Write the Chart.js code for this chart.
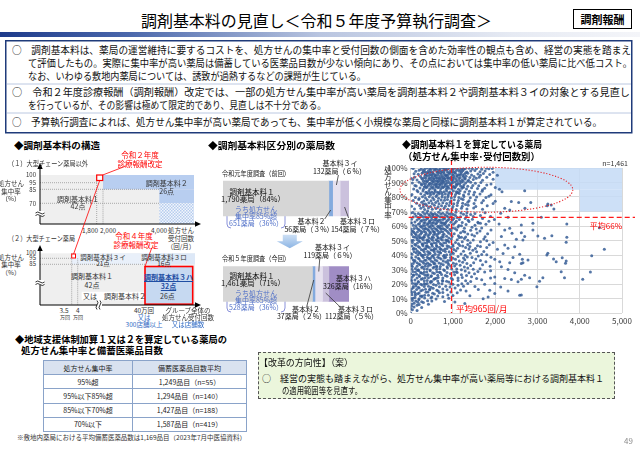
<!DOCTYPE html>
<html><head><meta charset="utf-8">
<script src="https://cdn.jsdelivr.net/npm/chart.js@4.4.1/dist/chart.umd.min.js"></script>
<style>
html,body{margin:0;padding:0;}
body{width:640px;height:452px;position:relative;overflow:hidden;background:#fff;font-family:"Noto Sans CJK JP","Noto Sans",sans-serif;color:#111;}
.t{position:absolute;white-space:nowrap;line-height:1;}
.c{transform:translateX(-50%);}
.r{transform:translateX(-100%);}
.hd{font-weight:bold;font-size:9.5px;color:#000;}
.d7{font-size:6.5px;color:#333;}
.bl{color:#2f6ac4;}
.red{color:#ff0000;}
canvas{position:absolute;}
svg{position:absolute;left:0;top:0;}
table{position:absolute;border-collapse:collapse;font-size:7px;color:#222;}
td,th{border:0.8px solid #8aa3c9;text-align:center;padding:0;height:13.2px;font-weight:normal;}
</style></head><body>

<svg width="640" height="452" viewBox="0 0 640 452">
<defs>
<pattern id="chk" width="3" height="3" patternUnits="userSpaceOnUse"><rect width="3" height="3" fill="#f2f6fc"/><rect width="1.5" height="1.5" fill="#b6ccee"/><rect x="1.5" y="1.5" width="1.5" height="1.5" fill="#b6ccee"/></pattern>
<linearGradient id="gbar" x1="0" x2="1" y1="0" y2="0"><stop offset="0" stop-color="#1d3a8a"/><stop offset="0.2" stop-color="#4a67ab"/><stop offset="0.5" stop-color="#b9c5e0"/><stop offset="0.8" stop-color="#e6eaf3"/><stop offset="1" stop-color="#f4f5f9"/></linearGradient>
</defs>
<rect x="0" y="32" width="640" height="5" fill="url(#gbar)"/>
<rect x="5.75" y="40.75" width="626" height="92" fill="none" stroke="#1f3b7a" stroke-width="1.5"/>
<line x1="7" y1="84" x2="631" y2="84" stroke="#a9bad9" stroke-width="0.8"/>
<line x1="7" y1="113" x2="631" y2="113" stroke="#a9bad9" stroke-width="0.8"/>

<!-- structure panel 1 -->
<rect x="40" y="175" width="154" height="49" fill="#efefef"/>
<rect x="103" y="175" width="91" height="14.3" fill="#b8cef0"/>
<rect x="159.3" y="189.3" width="34.7" height="14" fill="#b8cef0"/>
<rect x="159.3" y="203.3" width="34.7" height="20.7" fill="url(#chk)"/>
<g stroke="#8a8a8a" stroke-width="0.7" stroke-dasharray="1,1">
<line x1="40" y1="182.7" x2="97" y2="182.7"/><line x1="40" y1="189.3" x2="159.3" y2="189.3"/><line x1="40" y1="203.3" x2="159.3" y2="203.3"/>
<line x1="96.7" y1="175" x2="96.7" y2="224"/><line x1="103" y1="189.3" x2="103" y2="224"/>
</g>
<rect x="96.7" y="175" width="6" height="5.5" fill="#fff" stroke="#ff0000" stroke-width="1.2"/>
<g stroke="#000" stroke-width="1" fill="none">
<line x1="40" y1="224" x2="40" y2="167"/><line x1="40" y1="224" x2="197" y2="224"/>
</g>
<polygon points="40,163 37.3,169 42.7,169" fill="#000"/><polygon points="201,224 195,221.3 195,226.7" fill="#000"/>
<rect x="36" y="211" width="8" height="5" fill="#fff"/>
<path d="M35.5,213 q2.2,-2 4.5,0 t4.5,0 M35.5,215.5 q2.2,-2 4.5,0 t4.5,0" stroke="#000" stroke-width="0.8" fill="none"/>

<!-- structure panel 2 -->
<rect x="40" y="253.3" width="155" height="51.7" fill="#efefef"/>
<rect x="71.7" y="253.3" width="73.3" height="11" fill="#e9f0fa"/>
<rect x="145" y="253.3" width="50" height="11" fill="#dde8f7"/>
<rect x="81.7" y="291.8" width="63" height="8.4" fill="#fff"/>
<g stroke="#8a8a8a" stroke-width="0.7" stroke-dasharray="1,1">
<line x1="40" y1="258.3" x2="71.7" y2="258.3"/><line x1="40" y1="264.3" x2="145" y2="264.3"/>
<line x1="71.7" y1="253.3" x2="71.7" y2="305"/><line x1="77.7" y1="258.3" x2="77.7" y2="305"/>
</g>
<rect x="145" y="266.5" width="47.7" height="37.7" fill="#c6d9f1" stroke="#ff0000" stroke-width="1.6"/>
<rect x="71.7" y="254" width="3.8" height="4" fill="#fff" stroke="#ff0000" stroke-width="1"/>
<g stroke="#000" stroke-width="1" fill="none">
<line x1="40" y1="305" x2="40" y2="249"/><line x1="40" y1="305" x2="197" y2="305"/>
</g>
<polygon points="40,245 37.3,251 42.7,251" fill="#000"/><polygon points="201,305 195,302.3 195,307.7" fill="#000"/>
<rect x="36" y="280" width="8" height="5" fill="#fff"/>
<path d="M35.5,282 q2.2,-2 4.5,0 t4.5,0 M35.5,284.5 q2.2,-2 4.5,0 t4.5,0" stroke="#000" stroke-width="0.8" fill="none"/>
<rect x="97" y="300" width="5" height="9" fill="#fff"/>
<path d="M97,300.5 q2,2.2 0,4.5 t0,4.5 M100,300.5 q2,2.2 0,4.5 t0,4.5" stroke="#000" stroke-width="0.8" fill="none"/>

<g stroke="#ff0000" stroke-width="0.8">
<line x1="73.6" y1="254" x2="99.7" y2="180.5"/>
<line x1="102.7" y1="175" x2="126" y2="166"/>
<line x1="145" y1="266.5" x2="151.7" y2="248"/>
</g>

<!-- brackets in bar chart -->
<g stroke="#7d86d6" stroke-width="0.9" fill="none">
<path d="M231,205 Q227,205 227,209 L227,224 Q227,228 231,228"/>
<path d="M281,205 Q285,205 285,209 L285,224 Q285,228 281,228"/>
<path d="M231,289.5 Q227,289.5 227,293.5 L227,308 Q227,312 231,312"/>
<path d="M281,289.5 Q285,289.5 285,293.5 L285,308 Q285,312 281,312"/>
</g>
</svg>

<canvas id="bars" width="200" height="182" style="left:200px;top:150px;width:200px;height:182px"></canvas>
<canvas id="sc" width="255" height="175" style="left:380px;top:155px;width:255px;height:175px"></canvas>

<!-- header -->
<div class="t" style="left:141px;top:12px;font-size:16px;color:#000" data-w="351">調剤基本料の見直し＜令和５年度予算執行調査＞</div>
<div class="t" style="left:573px;top:8.5px;width:57px;height:18px;border:1.5px solid #000;font-size:11px;font-weight:bold;line-height:18px;text-align:center;color:#000">調剤報酬</div>

<div class="t" style="left:12px;top:45px;font-size:10px" data-w="619">○　調剤基本料は、薬局の運営維持に要するコストを、処方せんの集中率と受付回数の側面を含めた効率性の観点も含め、経営の実態を踏まえ</div>
<div class="t" style="left:28px;top:58px;font-size:10px" data-w="604">て評価したもの。実際に集中率が高い薬局は備蓄している医薬品目数が少ない傾向にあり、その点においては集中率の低い薬局に比べ低コスト。</div>
<div class="t" style="left:28px;top:71px;font-size:10px" data-w="338">なお、いわゆる敷地内薬局については、誘致が過熱するなどの課題が生じている。</div>
<div class="t" style="left:12px;top:87px;font-size:10px" data-w="618">○　令和２年度診療報酬（調剤報酬）改定では、一部の処方せん集中率が高い薬局を調剤基本料２や調剤基本料３イの対象とする見直し</div>
<div class="t" style="left:28px;top:100px;font-size:10px" data-w="298">を行っているが、その影響は極めて限定的であり、見直しは不十分である。</div>
<div class="t" style="left:12px;top:117px;font-size:10px" data-w="590">○　予算執行調査によれば、処方せん集中率が高い薬局であっても、集中率が低く小規模な薬局と同様に調剤基本料１が算定されている。</div>

<!-- section headers -->
<div class="t hd" style="left:14px;top:141px" data-w="86">◆調剤基本料の構造</div>
<div class="t hd" style="left:208px;top:141px" data-w="127">◆調剤基本料区分別の薬局数</div>
<div class="t hd" style="left:402px;top:140px" data-w="140">◆調剤基本料１を算定している薬局</div>
<div class="t hd" style="left:403px;top:151.5px" data-w="137">（処方せん集中率･受付回数別）</div>
<div class="t hd" style="left:15px;top:335px" data-w="212">◆地域支援体制加算１又は２を算定している薬局の</div>
<div class="t hd" style="left:21px;top:345.5px" data-w="142">処方せん集中率と備蓄医薬品目数</div>

<!-- structure panel texts -->
<div class="t" style="left:8px;top:159.5px;font-size:7px;color:#333" data-w="80">（１）大型チェーン薬局以外</div>
<div class="t c red" style="left:140px;top:151.3px;font-size:7.5px">令和２年度</div>
<div class="t c red" style="left:140px;top:159.5px;font-size:7.5px">診療報酬改定</div>
<div class="t r d7" style="left:36px;top:172px;font-size:6px">100</div>
<div class="t r d7" style="left:36px;top:179.7px;font-size:6px">95</div>
<div class="t r d7" style="left:36px;top:187px;font-size:6px">85</div>
<div class="t r d7" style="left:36px;top:201px;font-size:6px">70</div>
<div class="t c d7" style="left:11px;top:180px">処方せん</div>
<div class="t c d7" style="left:11px;top:187.5px">集中率</div>
<div class="t c d7" style="left:11px;top:195px">（%）</div>
<div class="t c" style="left:78px;top:195.8px;font-size:7px;color:#333">調剤基本料１</div>
<div class="t c" style="left:78px;top:203px;font-size:7px;color:#333">42点</div>
<div class="t c" style="left:166.7px;top:179.8px;font-size:7px;color:#333">調剤基本料２</div>
<div class="t c" style="left:166.7px;top:187.5px;font-size:7px;color:#333">26点</div>
<div class="t c d7" style="left:90px;top:227px">1,800</div>
<div class="t c d7" style="left:108px;top:227px">2,000</div>
<div class="t c d7" style="left:159px;top:227px">4,000</div>
<div class="t c d7" style="left:181px;top:227px">処方せん</div>
<div class="t c d7" style="left:181px;top:234.8px">受付回数</div>
<div class="t c d7" style="left:181px;top:242.5px">（回/月）</div>

<div class="t" style="left:8px;top:234.8px;font-size:7px;color:#333" data-w="67">（２）大型チェーン薬局</div>
<div class="t c red" style="left:134px;top:232.3px;font-size:7.5px">令和４年度</div>
<div class="t c red" style="left:136px;top:240.5px;font-size:7.5px">診療報酬改定</div>
<div class="t r d7" style="left:36px;top:250.3px;font-size:6px">100</div>
<div class="t r d7" style="left:36px;top:255.3px;font-size:6px">95</div>
<div class="t r d7" style="left:36px;top:261.3px;font-size:6px">85</div>
<div class="t c d7" style="left:11px;top:253.8px">処方せん</div>
<div class="t c d7" style="left:11px;top:261.2px">集中率</div>
<div class="t c d7" style="left:11px;top:268.5px">（%）</div>
<div class="t c" style="left:103px;top:253.5px;font-size:6.5px;color:#333">調剤基本料３イ</div>
<div class="t c" style="left:103px;top:260px;font-size:6.5px;color:#333">21点</div>
<div class="t c" style="left:164px;top:253.5px;font-size:6.5px;color:#333">調剤基本料３ロ</div>
<div class="t c" style="left:164px;top:260px;font-size:6.5px;color:#333">16点</div>
<div class="t c" style="left:92px;top:273.2px;font-size:7px;color:#333">調剤基本料１</div>
<div class="t c" style="left:92px;top:281.5px;font-size:7px;color:#333">42点</div>
<div class="t" style="left:83px;top:292.5px;font-size:7px;color:#333">又は　調剤基本料２　　26点</div>
<div class="t c" style="left:168.5px;top:274.2px;font-size:7px;color:#1f4ea3;font-weight:bold;text-decoration:underline">調剤基本料３ハ</div>
<div class="t c" style="left:168.5px;top:282.5px;font-size:7px;color:#1f4ea3;font-weight:bold;text-decoration:underline">32点</div>
<div class="t c d7" style="left:64px;top:307px">3.5</div>
<div class="t c d7" style="left:77.7px;top:307px">4</div>
<div class="t c d7" style="left:65px;top:314px;font-size:5px">万回</div>
<div class="t c d7" style="left:78px;top:314px;font-size:5px">万回</div>
<div class="t c d7" style="left:144px;top:307px">40万回</div>
<div class="t c d7 bl" style="left:144px;top:313.7px">又は</div>
<div class="t c d7 bl" style="left:144px;top:321px">300店舗以上</div>
<div class="t c d7" style="left:188px;top:307px">グループ全体の</div>
<div class="t c d7" style="left:188px;top:314px">処方せん受付回数</div>
<div class="t c d7 bl" style="left:188px;top:321px">又は店舗数</div>

<!-- bar chart texts -->
<div class="t" style="left:222px;top:169.8px;font-size:7px;color:#222" data-w="68">令和元年度調査（前回）</div>
<div class="t" style="left:222px;top:254.8px;font-size:7px;color:#222" data-w="68">令和５年度調査（今回）</div>
<div class="t c" style="left:340px;top:159.8px;font-size:7px">基本料３イ</div>
<div class="t c" style="left:339.5px;top:167.5px;font-size:7px">132薬局（６%）</div>
<div class="t c" style="left:252px;top:187.5px;font-size:7.5px">調剤基本料１</div>
<div class="t c" style="left:253px;top:194.8px;font-size:7.5px">1,790薬局（84%）</div>
<div class="t c bl" style="left:256px;top:205.5px;font-size:7px;color:#4f6fc8">うち処方せん</div>
<div class="t c bl" style="left:256px;top:212.5px;font-size:7px;color:#4f6fc8">集中率85%超</div>
<div class="t c bl" style="left:256px;top:220.2px;font-size:7px;color:#4f6fc8">651薬局（36%）</div>
<div class="t c" style="left:311.5px;top:218.2px;font-size:7px">基本料２</div>
<div class="t c" style="left:309px;top:225.8px;font-size:7px">56薬局（３%）</div>
<div class="t c" style="left:357.5px;top:218.2px;font-size:7px">基本料３ロ</div>
<div class="t c" style="left:357.5px;top:225.8px;font-size:7px">154薬局（７%）</div>
<div class="t c" style="left:332.5px;top:243.8px;font-size:7px">基本料３イ</div>
<div class="t c" style="left:330px;top:251.5px;font-size:7px">119薬局（６%）</div>
<div class="t c" style="left:252px;top:272.2px;font-size:7.5px">調剤基本料１</div>
<div class="t c" style="left:253px;top:279.2px;font-size:7.5px">1,461薬局（71%）</div>
<div class="t c bl" style="left:256px;top:289.8px;font-size:7px;color:#4f6fc8">うち処方せん</div>
<div class="t c bl" style="left:256px;top:296.5px;font-size:7px;color:#4f6fc8">集中率85%超</div>
<div class="t c bl" style="left:256px;top:304.2px;font-size:7px;color:#4f6fc8">528薬局（36%）</div>
<div class="t c" style="left:353.5px;top:274.8px;font-size:7px">基本料３ハ</div>
<div class="t c" style="left:350px;top:282.5px;font-size:7px">326薬局（16%）</div>
<div class="t c" style="left:306px;top:305.5px;font-size:7px">基本料２</div>
<div class="t c" style="left:301.5px;top:313.2px;font-size:7px">37薬局（２%）</div>
<div class="t c" style="left:355.5px;top:305.5px;font-size:7px">基本料３ロ</div>
<div class="t c" style="left:351.5px;top:313.2px;font-size:7px">112薬局（５%）</div>

<!-- scatter texts -->
<div class="t" style="left:384px;top:166px;font-size:7.5px;writing-mode:vertical-rl;color:#222">処方せん集中率</div>
<div class="t r" style="left:628px;top:159.5px;font-size:7px;color:#333">n=1,461</div>
<div class="t r red" style="left:622px;top:222px;font-size:8px">平均66%</div>
<div class="t red" style="left:456px;top:304.3px;font-size:8.5px">平均965回/月</div>

<!-- table -->
<table style="left:43px;top:360px;width:204px">
<tr style="background:#d9e2f0"><th style="width:88px">処方せん集中率</th><th>備蓄医薬品目数平均</th></tr>
<tr><td id="r0a"></td><td id="r0b"></td></tr>
<tr><td id="r1a"></td><td id="r1b"></td></tr>
<tr><td id="r2a"></td><td id="r2b"></td></tr>
<tr><td id="r3a"></td><td id="r3b"></td></tr>
</table>
<div class="t" style="left:17px;top:435px;font-size:6.3px;color:#333" data-w="229">※敷地内薬局における平均備蓄医薬品数は1,169品目（2023年7月中医協資料）</div>

<!-- reform box -->
<div class="t" style="left:258px;top:352px;width:355px;height:45px;background:#ebf6dc;border:1px dashed #555"></div>
<div class="t" style="left:259px;top:357.5px;font-size:9.5px;color:#111" data-w="94">【改革の方向性】（案）</div>
<div class="t" style="left:262px;top:374px;font-size:9.5px;color:#111" data-w="342">○　経営の実態も踏まえながら、処方せん集中率が高い薬局等における調剤基本料１</div>
<div class="t" style="left:281.5px;top:386px;font-size:9.5px;color:#111" data-w="80">の適用範囲等を見直す。</div>
<div class="t" style="left:624px;top:437px;font-size:8px;color:#8c8c8c">49</div>

<script>
// ---- table data ----
const tableRates = ['95%超','95%以下85%超','85%以下70%超','70%以下'];
const tableItems = [1249,1294,1427,1587];
const tableN = [55,140,188,419];

// ---- bar chart data (調剤基本料区分別の薬局数, %) ----
const barCats = ['令和元年度調査（前回）','令和５年度調査（今回）'];
const kihon1 = [84,71];
const kihon2 = [3,2];
const kihon3i = [6,6];
const kihon3ro = [7,5];
const kihon3ha = [0,16];

// ---- scatter data: [受付回数/月, 処方せん集中率%] ----
const scatterPoints = [
[0,100],[60,99.6],[250,99.2],[380,100],[450,99.4],[520,99.8],[610,99.1],[700,99.7],[760,100],[830,99.3],[900,99.8],[980,99.5],[1050,100],[1120,99.2],[1210,99.7],[1290,99.4],[1380,99.9],[1460,99.3],[1560,99.6],[1680,99.1],[1790,99.8],[1850,99.4],[1930,99.7],
[120,97.8],[300,98.3],[340,97.2],[420,98.1],[490,97.5],[560,98.4],[640,97.1],[690,98.2],[740,97.6],[810,98.5],[870,97.3],[940,98],[1010,97.4],[1080,98.3],[1150,97.7],[1230,98.1],[1330,97.2],[1420,97.9],[1520,98.2],[1640,97.5],[1760,97.9],
[180,95.7],[270,96.3],[360,95.2],[410,96.4],[470,95.5],[540,96.1],[600,95.3],[660,96.5],[720,95.8],[790,96.2],[850,95.1],[920,96],[990,95.6],[1060,96.3],[1130,95.4],[1190,96.1],[1270,95.7],[1350,96.4],[1440,95.2],[1590,95.9],[1720,96.2],[1870,95.5],
[90,93.6],[230,94.2],[320,93.4],[390,94.4],[440,93.1],[510,93.9],[580,94.3],[630,93.2],[700,94.1],[770,93.5],[830,94.4],[890,93.3],[960,94],[1030,93.6],[1100,94.2],[1170,93.4],[1250,93.9],[1310,94.3],[1400,93.5],[1500,94.1],[1620,93.7],
[150,91.8],[280,92.3],[350,91.2],[430,92.1],[490,91.5],[550,92.4],[620,91.3],[680,92.2],[750,91.6],[800,92.5],[880,91.4],[950,92],[1000,91.7],[1070,92.3],[1160,91.2],[1220,91.9],[1290,92.4],[1370,91.5],[1480,92.1],[1700,91.6],[1950,92.2],
[40,89.7],[200,90.2],[310,89.3],[380,90.4],[460,89.5],[530,90.1],[590,89.2],[650,90.3],[720,89.6],[780,90.2],[860,89.4],[910,90],[990,89.7],[1050,90.4],[1120,89.3],[1200,90.1],[1300,89.6],[1420,90.2],[1530,89.5],[1660,90],
[130,87.6],[260,88.3],[340,87.4],[420,88.1],[480,87.2],[560,88.4],[610,87.7],[690,88.2],[740,87.3],[820,88],[880,87.5],[940,88.3],[1020,87.2],[1090,88.1],[1180,87.6],[1260,88.4],[1350,87.4],[1470,88],[1610,87.7],[1800,88.2],
[70,85.6],[220,86.2],[300,85.3],[370,86.4],[450,85.5],[510,86.1],[570,85.2],[640,86.3],[710,85.7],[760,86.4],[840,85.4],[900,86],[970,85.6],[1040,86.2],[1130,85.3],[1210,86.1],[1320,85.5],[1440,86.3],[1580,85.8],[1750,86],[2100,85.4],
[330,99],[470,98.9],[580,99.2],[660,98.7],[790,99],[860,98.8],[1000,98.9],[1180,98.7],[1250,99],
[290,97],[380,96.9],[450,97],[520,96.8],[620,97.2],[710,96.9],[780,97.1],[900,96.8],[960,97.1],[1040,96.9],[1200,97],[1300,96.8],
[340,95],[440,94.8],[500,95.1],[570,94.9],[650,95],[750,94.7],[820,95],[880,94.9],[1010,95],[1090,94.8],[1160,95.1],[1230,94.9],
[260,93],[360,92.9],[470,93],[540,92.8],[600,93.1],[670,92.9],[730,93],[800,92.8],[860,93.1],[920,92.9],[1000,93],[1140,92.8],[1280,93],
[300,90.9],[400,91],[520,90.8],[570,91.1],[640,90.9],[700,91],[760,90.8],[830,91.1],[980,90.9],[1100,91],[1240,90.8],
[250,89],[350,88.9],[440,89.1],[500,88.8],[620,89],[680,88.8],[750,89.1],[820,88.9],[950,89],[1080,88.8],[1160,89.1],
[320,86.9],[390,87.1],[530,86.8],[600,87],[670,86.9],[790,87.1],[860,86.8],[1000,87],[1060,86.9],[1230,87.1],
[170,83.6],[290,84.2],[360,83.3],[430,84.1],[500,83.5],[580,84.3],[630,83.2],[700,84],[790,83.7],[850,84.2],[930,83.4],[1010,84.1],[1080,83.6],[1170,84.3],[1280,83.5],[1390,84],[1510,83.3],[1690,83.9],[2160,83.6],[2697,84.3],
[30,81.7],[240,82.2],[330,81.3],[400,82.4],[470,81.5],[540,82.1],[620,81.2],[680,82.3],[750,81.6],[820,82],[890,81.4],[970,82.2],[1060,81.7],[1150,82.4],[1250,81.3],[1370,82],[1490,81.6],[1640,82.1],[1900,81.5],
[380,83],[460,82.8],[560,83.1],[660,82.9],[740,83],[900,82.8],[1120,83.1],
[110,79.6],[280,80.2],[350,79.3],[440,80.1],[520,79.5],[600,80.3],[660,79.2],[740,80],[810,79.7],[880,80.2],[960,79.4],[1040,80.1],[1140,79.6],[1260,80.3],[1410,79.5],[1560,80],[1780,79.7],
[60,77.6],[190,78.2],[310,77.3],[390,78.1],[480,77.5],[550,78.3],[640,77.2],[720,78],[800,77.7],[870,78.2],[950,77.4],[1030,78.1],[1130,77.6],[1240,78.3],[1380,77.5],[1530,78],[1720,77.6],[2380,76.9],[2555,76.2],
[140,75.7],[260,76.3],[350,75.2],[430,76.1],[510,75.5],[590,76.2],[670,75.3],[760,76],[850,75.6],[930,76.2],[1020,75.4],[1110,76.1],[1230,75.7],[1350,76.3],[1500,75.5],[1680,76],[1950,75.6],[2840,76.2],[3245,75.2],
[20,73.6],[210,74.2],[300,73.3],[380,74.1],[470,73.5],[560,74.3],[650,73.2],[730,74],[820,73.7],[910,74.2],[1000,73.4],[1100,74.1],[1220,73.6],[1360,74.3],[1540,73.5],[1810,74],[3231,73.9],[3325,74.5],
[90,71.7],[240,72.2],[330,71.3],[420,72.4],[510,71.5],[600,72.1],[700,71.2],[790,72.3],[880,71.6],[980,72],[1080,71.4],[1200,72.2],[1330,71.7],[1490,72.4],[1700,71.5],[2225,72.3],[2343,71.1],[2703,72.2],[3388,71.8],
[50,69.3],[180,68.7],[290,69.5],[380,68.9],[480,69.2],[570,68.6],[660,69.4],[760,68.8],[860,69.3],[960,68.7],[1070,69.5],[1190,68.9],[1330,69.2],[1520,68.6],[1760,69.1],[2130,68.8],
[130,66.7],[250,67.3],[350,66.4],[450,67.2],[540,66.5],[640,67.1],[740,66.3],[850,67],[950,66.6],[1060,67.3],[1180,66.4],[1320,67.1],[1480,66.6],[1650,67.2],[1890,66.5],[2303,66],[3090,66],
[20,64.6],[200,65.2],[310,64.3],[400,65.1],[500,64.5],[600,65.3],[700,64.2],[800,65],[910,64.7],[1020,65.2],[1150,64.4],[1290,65.1],[1460,64.6],[1700,65.2],[1980,64.5],
[100,62.7],[240,63.3],[340,62.4],[440,63.2],[540,62.5],[640,63.1],[740,62.3],[840,63],[950,62.6],[1080,63.3],[1220,62.4],[1380,63.1],[1590,62.6],[1850,63.2],
[60,60.6],[180,61.2],[290,60.3],[390,61.1],[490,60.5],[590,61.3],[690,60.2],[800,61],[900,60.7],[1010,61.2],[1140,60.4],[1310,61.1],[1520,60.6],[1780,61.2],[2091,61.4],[2618,60.7],[2892,61.9],[3694,61.4],
[140,58.7],[250,59.3],[350,58.4],[460,59.2],[560,58.5],[660,59.1],[760,58.3],[870,59],[990,58.6],[1120,59.3],[1270,58.4],[1450,59.1],[1680,58.6],[2343,58.4],[4465,58.8],
[30,56.6],[200,57.2],[310,56.3],[420,57.1],[520,56.5],[620,57.3],[720,56.2],[830,57],[950,56.7],[1090,57.2],[1240,56.4],[1420,57.1],[1640,56.6],[1900,57.2],[2225,57.3],[2892,57.2],
[110,54.7],[260,55.3],[370,54.4],[470,55.2],[580,54.5],[680,55.1],[790,54.3],[900,55],[1030,54.6],[1180,55.3],[1350,54.4],[1570,55.1],[1820,54.6],[2398,55],[2618,55.4],
[60,52.6],[190,53.2],[300,52.3],[410,53.1],[510,52.5],[620,53.3],[730,52.2],[850,53],[980,52.7],[1130,53.2],[1300,52.4],[1510,53.1],[1760,52.6],[2146,52.7],[2697,52.7],[3009,53.1],[3340,53.3],
[150,50.7],[270,51.3],[380,50.4],[490,51.2],[600,50.5],[710,51.1],[830,50.3],[960,51],[1100,50.6],[1270,51.3],[1480,50.4],[1730,51.1],[2500,50.8],[2656,50.3],[3167,51.5],[3694,52.2],
[40,48.6],[220,49.2],[330,48.3],[440,49.1],[550,48.5],[660,49.3],[780,48.2],[910,49],[1060,48.7],[1220,49.2],[1410,48.4],[1650,49.1],[1950,48.6],[3679,48.8],
[120,46.7],[280,47.3],[390,46.4],[500,47.2],[610,46.5],[730,47.1],[860,46.3],[1000,47],[1160,46.6],[1350,47.3],[1580,46.4],[1860,47.1],[2225,46.9],
[70,44.6],[210,45.2],[330,44.3],[440,45.1],[560,44.5],[680,45.3],[810,44.2],[950,45],[1110,44.7],[1300,45.2],[1530,44.4],[1800,45.1],[2303,44.6],[2461,45.7],[4582,43.9],
[160,42.7],[290,43.3],[400,42.4],[520,43.2],[640,42.5],[770,43.1],[910,42.3],[1070,43],[1250,42.6],[1470,43.3],[1730,42.5],[2052,43.9],
[30,40.6],[220,41.2],[340,40.3],[460,41.1],[580,40.5],[710,41.3],[850,40.2],[1010,41],[1190,40.7],[1410,41.2],[1680,40.4],[2186,41.1],[2579,40.6],[3245,41.2],[3222,40],
[120,38.7],[270,39.3],[390,38.4],[510,39.2],[640,38.5],[780,39.1],[940,38.3],[1120,39],[1340,38.6],[1600,39.3],[1900,38.5],[2421,38.3],[4283,39.5],
[60,36.6],[200,37.2],[330,36.3],[450,37.1],[580,36.5],[720,37.3],[880,36.2],[1060,37],[1280,36.7],[1540,37.2],[1989,37],[2641,37],[3380,37.2],[3585,38.1],
[150,34.7],[280,35.3],[400,34.4],[530,35.2],[670,34.5],[830,35.1],[1010,34.3],[1230,35],[1490,34.6],[1780,35.3],[2107,35.3],[2343,34.6],[2775,36.5],[3443,35.4],[3679,35.9],
[20,32.6],[220,33.2],[340,32.3],[470,33.1],[610,32.5],[770,33.3],[950,32.2],[1170,33],[1420,32.7],[1700,33.2],[2618,34.2],[2656,34.7],[3663,34.3],
[110,30.7],[260,31.3],[390,30.4],[530,31.2],[690,30.5],[870,31.1],[1090,30.3],[1350,31],[1640,30.6],[2146,31.9],[2303,30],
[50,28.6],[190,29.2],[320,28.3],[460,29.1],[620,28.5],[800,29.3],[1020,28.2],[1290,29],[1590,28.7],[1890,29.2],[3561,28.5],
[140,26.7],[280,27.3],[410,26.4],[560,27.2],[730,26.5],[940,27.1],[1200,26.3],[1510,27],[2461,27.7],[2697,26.1],[4252,28.3],
[30,24.6],[210,25.2],[340,24.3],[480,25.1],[650,24.5],[860,25.3],[1120,24.2],[1440,25],[1989,24.9],[2225,23.8],[2814,24.3],[3639,24.3],
[100,22.7],[250,23.3],[390,22.4],[550,23.2],[750,22.5],[990,23.1],[1300,22.3],[1680,23],[2382,23.1],[2618,23.2],[3127,24.3],[4071,23.2],
[40,20.6],[180,21.2],[320,20.3],[470,21.1],[660,20.5],[900,21.3],[1210,20.2],[1989,20.3],[2539,21.5],[3049,21.9],
[120,18.7],[270,19.3],[420,18.4],[600,19.2],[830,18.5],[1120,19.1],[1520,18.3],[2986,18.1],
[20,16.6],[200,17.2],[350,16.3],[530,17.1],[760,16.5],[1050,17.3],[2130,18],[1871,15.7],
[90,14.7],[240,15.3],[410,14.4],[650,15.2],[950,14.5],[1310,15.1],[2303,15.2],
[30,12.6],[170,13.2],[330,12.3],[560,13.1],[880,12.5],[1989,13.4],[2579,12.2],[2618,12.4],
[100,10.7],[260,11.3],[480,10.4],[760,11.2],[1832,11.1],
[40,8.6],[190,9.2],[400,8.4],[1714,9.9],
[80,6.7],[300,7.3],[1046,7.6],[1281,6.5],
[20,4.6],[150,5.3],[0,0],
[10,58],[80,55.5],[150,52],[20,50],[100,47.5],[60,44],[130,41.5],[10,38],[90,35.5],[40,32],[160,29.5],[70,26],[10,23],[140,20],[60,17.5],[110,13.5],[20,10],[170,7.5],[230,11.8],[350,19.8],[240,27.8],[360,33.8],[250,40],[370,46],[230,52],[340,58],[450,62],[560,55.8],[420,50],[550,43.5],[470,38],[380,25.8],[500,21.8],[450,16],[600,24],[620,31.8],[700,44],[650,51.8],[720,58],[600,64],[520,67.8],[400,70.4],[300,75],[200,79],[150,84.5],[100,88],[50,92],[80,96],[200,98.5],[550,34],[700,28],[800,38],[860,50],[780,62],[930,57.8],[1000,46],[1150,52],[1250,38],[1100,28],[900,33.5],[760,22],[680,14],[500,11],[950,20],[1400,45.8],[1600,62],[1420,68],[1300,74.8],[1200,78.8],[1100,83],[1250,86.8],[1350,90.8],[1550,93],[1650,95],[1800,93.6],[1900,89],[1700,85],[1850,80.5],[2000,77],[2050,95],[1950,97],[2000,86.5],
[100,68.2],[230,67.8],[330,68.3],[430,67.9],[520,68.1],[610,67.7],[710,68.4],[810,67.8],[910,68.2],[1010,67.9],[1250,68.1],
[60,66.2],[190,65.8],[290,66.3],[400,65.7],[490,66.1],[590,65.9],[690,66.4],[790,65.8],[880,66.2],[1100,65.9],
[150,64.2],[260,63.8],[360,64.3],[460,63.7],[560,64.1],[660,63.9],[760,64.4],[870,63.8],[990,64.2],[1360,63.9],
[20,62.2],[210,61.8],[310,62.3],[410,61.7],[510,62.1],[610,61.9],[710,62.4],[820,61.8],[1050,62.2],[1650,61.9],
[120,60.2],[230,59.8],[330,60.3],[430,59.7],[530,60.1],[640,59.9],[740,60.4],[850,59.8],[1200,60.2],
[80,58.2],[180,57.8],[290,58.3],[400,57.7],[500,58.1],[600,57.9],[700,58.4],[800,57.8],[1050,58.2],[1550,57.9],
[60,56.2],[160,55.8],[240,56.3],[350,55.7],[450,56.1],[550,55.9],[650,56.4],[760,55.8],[870,56.2],[1280,55.9],
[20,54.2],[130,53.8],[230,54.3],[330,53.7],[440,54.1],[540,53.9],[640,54.4],[760,53.8],[950,54.2],[1450,53.9],
[100,52.2],[210,51.8],[320,52.3],[430,51.7],[540,52.1],[650,51.9],[770,52.4],[900,51.8],[1200,52.2],
[60,50.2],[190,49.8],[300,50.3],[400,49.7],[520,50.1],[630,49.9],[750,50.4],[880,49.8],[1350,50.2],[1800,49.9],
[160,48.2],[270,47.8],[380,48.3],[490,47.7],[600,48.1],[700,47.9],[830,48.4],[1130,47.8],
[30,46.2],[180,45.8],[290,46.3],[400,45.7],[510,46.1],[620,45.9],[760,46.4],[900,45.8],[1230,46.2],[1650,45.9],
[120,44.2],[250,43.8],[360,44.3],[480,43.7],[600,44.1],[720,43.9],[860,44.4],[1020,43.8],[1380,44.2],
[80,42.2],[200,41.8],[320,42.3],[440,41.7],[560,42.1],[690,41.9],[820,42.4],[980,41.8],[1560,42.2],
[170,40.2],[290,39.8],[410,40.3],[530,39.7],[660,40.1],[790,39.9],[940,40.4],[1290,39.8],[1800,40.2],
[20,38.2],[180,37.8],[300,38.3],[420,37.7],[550,38.1],[680,37.9],[830,38.4],[1000,37.8],[1450,38.2],
[100,36.2],[230,35.8],[360,36.3],[490,35.7],[620,36.1],[770,35.9],[940,36.4],[1150,35.8],[1650,36.2],
[60,34.2],[190,33.8],[310,34.3],[440,33.7],[570,34.1],[720,33.9],[880,34.4],[1080,33.8],[1330,34.2],
[150,32.2],[280,31.8],[410,32.3],[560,31.7],[700,32.1],[860,31.9],[1040,32.4],[1270,31.8],[1880,32.2],
[30,30.2],[180,29.8],[320,30.3],[460,29.7],[610,30.1],[780,29.9],[970,30.4],[1200,29.8],[1480,30.2],
[110,28.2],[240,27.8],[380,28.3],[520,27.7],[680,28.1],[860,27.9],[1080,28.4],[1380,27.8],[1750,28.2],
[60,26.2],[200,25.8],[330,26.3],[490,25.7],[640,26.1],[820,25.9],[1040,26.4],[1320,25.8],
[150,24.2],[280,23.8],[420,24.3],[570,23.7],[760,24.1],[960,23.9],[1220,24.4],[1560,23.8],[1890,24.2],
[20,22.2],[180,21.8],[320,22.3],[470,21.7],[640,22.1],[850,21.9],[1120,22.4],[1420,21.8],
[100,20.2],[240,19.8],[390,20.3],[540,19.7],[740,20.1],[1000,19.9],[1350,20.4],[1750,19.8],
[60,18.2],[180,17.8],[320,18.3],[480,17.7],[680,18.1],[930,17.9],[1250,18.4],
[140,16.2],[280,15.8],[450,16.3],[620,15.7],[860,16.1],[1180,15.9],[1600,16.2],
[30,14.2],[200,13.8],[360,14.3],[520,13.7],[760,14.1],[1100,13.9],
[110,12.2],[270,11.8],[420,12.3],[640,11.7],[1000,12.1],[1400,11.9],
[60,10.2],[200,9.8],[330,10.3],[600,9.7],[900,10.1],
[120,8.2],[260,7.8],[500,8.3],[800,7.9],
[30,6.2],[200,5.8],[420,6.1],
[80,4.2],[260,3.8],[40,2.2],[150,1.8],
[0,3],[0,15],[0,27],[0,41],[0,55],[0,69],[0,81],[0,93],[0,62],[0,34]
];

// reference marks on the scatter (data units)
const avgCount = 965;
const avgRate = 66;
const kihon2Zones = [[2000,5000,85,100],[4000,5000,70,85]];
const highRateEllipse = {cx:1790, cy:85, rx:2045, ry:15.5};

// fill table
tableRates.forEach((r,i)=>{
  document.getElementById('r'+i+'a').textContent = r;
  document.getElementById('r'+i+'b').textContent = tableItems[i].toLocaleString('en-US')+'品目（n='+tableN[i]+'）';
});

// fit text widths
document.querySelectorAll('[data-w]').forEach(el=>{
  const w = +el.dataset.w, a = el.getBoundingClientRect().width;
  if (a>0) { el.style.transformOrigin='left center'; el.style.transform='scaleX('+(w/a)+')'; }
});

// ---- stacked bar chart ----
const barDecor = {
  id:'barDecor',
  afterDatasetsDraw(chart){
    const ctx = chart.ctx, xs = chart.scales.x;
    const el = (d,c)=>chart.getDatasetMeta(d).data[c];
    const b0 = el(0,0), b1 = el(0,1);
    const cx = xs.getPixelForValue(53), cy = (b0.y+b1.y)/2;
    const g = ctx.createLinearGradient(0,cy-7,0,cy+7);
    g.addColorStop(0,'#cfe1f5'); g.addColorStop(1,'#8db5e4');
    ctx.save(); ctx.fillStyle=g;
    ctx.beginPath();
    ctx.moveTo(cx-7,cy-6.5); ctx.lineTo(cx+7,cy-6.5); ctx.lineTo(cx+7,cy); ctx.lineTo(cx+13,cy);
    ctx.lineTo(cx,cy+7); ctx.lineTo(cx-13,cy); ctx.lineTo(cx-7,cy); ctx.closePath(); ctx.fill();
    ctx.strokeStyle='#333'; ctx.lineWidth=0.8;
    const seg = (d,c)=>{const e=el(d,c); return {x:(e.x+e.base)/2, top:e.y-e.height/2, bot:e.y+e.height/2, y:e.y};};
    const lines = [
      [seg(2,0), s=>[s.x,s.top+4,s.x+2,s.top-6]],
      [seg(1,0), s=>[s.x,s.bot-6,s.x-6,s.bot+3]],
      [seg(3,0), s=>[s.x,s.bot-9,s.x+4,s.bot+2]],
      [seg(2,1), s=>[s.x,s.top+5,s.x+1,s.top-8]],
      [seg(1,1), s=>[s.x,s.y-4,s.x-7,s.bot+5]],
      [seg(3,1), s=>[s.x,s.bot-8.5,s.x+14,s.bot+5]]
    ];
    lines.forEach(([s,f])=>{const p=f(s); ctx.beginPath(); ctx.moveTo(p[0],p[1]); ctx.lineTo(p[2],p[3]); ctx.stroke();});
    ctx.restore();
  }
};
new Chart(document.getElementById('bars'), {
  type:'bar',
  data:{labels:barCats, datasets:[
    {label:'調剤基本料１', data:kihon1, backgroundColor:'#d6d6d6'},
    {label:'基本料２', data:kihon2, backgroundColor:'#84aade'},
    {label:'基本料３イ', data:kihon3i, backgroundColor:'#e6e1ef'},
    {label:'基本料３ロ', data:kihon3ro, backgroundColor:'#cbc1dd'},
    {label:'基本料３ハ', data:kihon3ha, backgroundColor:'#a08dc5'}
  ]},
  options:{indexAxis:'y', responsive:false, animation:false, devicePixelRatio:1,
    layout:{padding:{left:23,right:51,top:5.75,bottom:5.25}},
    plugins:{legend:{display:false}, tooltip:{enabled:false}},
    datasets:{bar:{barThickness:35, borderWidth:0}},
    scales:{x:{stacked:true,min:0,max:100,display:false}, y:{stacked:true,display:false}}
  },
  plugins:[barDecor]
});

// ---- scatter ----
const scDecor = {
  id:'scDecor',
  beforeDatasetsDraw(chart){
    const ctx=chart.ctx, x=chart.scales.x, y=chart.scales.y;
    ctx.save(); ctx.fillStyle='rgba(196,219,246,0.85)';
    kihon2Zones.forEach(z=>{
      const x0=x.getPixelForValue(z[0]), x1=x.getPixelForValue(z[1]), y0=y.getPixelForValue(z[3]), y1=y.getPixelForValue(z[2]);
      ctx.fillRect(x0,y0,x1-x0,y1-y0);
    });
    ctx.restore();
  },
  afterDatasetsDraw(chart){
    const ctx=chart.ctx, x=chart.scales.x, y=chart.scales.y, a=chart.chartArea;
    ctx.save();
    ctx.strokeStyle='#ff1a1a'; ctx.lineWidth=1.2; ctx.setLineDash([5,3]);
    const vx=x.getPixelForValue(avgCount);
    ctx.beginPath(); ctx.moveTo(vx,a.top-8); ctx.lineTo(vx,a.bottom); ctx.stroke();
    const hy=y.getPixelForValue(avgRate);
    ctx.beginPath(); ctx.moveTo(a.left-2,hy); ctx.lineTo(chart.width,hy); ctx.stroke();
    ctx.strokeStyle='#e8252a'; ctx.lineWidth=1.1; ctx.setLineDash([1.2,1.8]);
    const e=highRateEllipse;
    const ex=x.getPixelForValue(e.cx), ey=y.getPixelForValue(e.cy);
    const rx=x.getPixelForValue(e.cx+e.rx)-ex, ry=ey-y.getPixelForValue(e.cy+e.ry);
    ctx.beginPath(); ctx.ellipse(ex,ey,rx,ry,0,0,Math.PI*2); ctx.stroke();
    ctx.restore();
  }
};
new Chart(document.getElementById('sc'), {
  type:'scatter',
  data:{datasets:[{data:scatterPoints.map(p=>({x:p[0],y:p[1]})), pointRadius:1.5, pointBackgroundColor:'rgba(55,94,150,0.85)', pointBorderWidth:0}]},
  options:{responsive:false, animation:false, devicePixelRatio:1,
    layout:{padding:{top:13,right:12,left:0,bottom:0}},
    plugins:{legend:{display:false}, tooltip:{enabled:false}},
    scales:{
      x:{type:'linear',min:0,max:5000,
        ticks:{stepSize:1000,maxRotation:0,padding:3,color:'#404040',font:{size:8,family:'"Noto Sans CJK JP"'},callback:v=>v.toLocaleString('en-US')},
        grid:{color:'#d9d9d9',drawTicks:false}, border:{display:false},
        afterFit(s){s.height=17;}},
      y:{min:0,max:100,
        ticks:{stepSize:10,padding:3,color:'#404040',font:{size:8,family:'"Noto Sans CJK JP"'},callback:v=>v+'%'},
        grid:{color:'#d9d9d9',drawTicks:false}, border:{display:false},
        afterFit(s){s.width=30.7;}}
    }
  },
  plugins:[scDecor]
});
</script>
</body></html>
